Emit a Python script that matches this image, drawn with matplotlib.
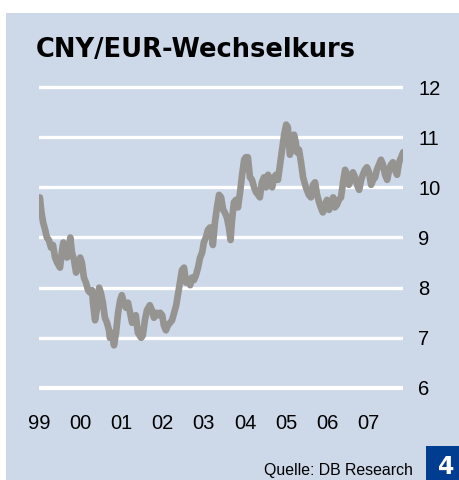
import matplotlib.pyplot as plt
from matplotlib.patches import Rectangle

plt.rcParams['font.family'] = ['Liberation Sans', 'DejaVu Sans']

# CNY per EUR (decimal years)
years = [
    1999.02, 1999.06, 1999.10, 1999.15, 1999.19, 1999.24, 1999.29, 1999.34, 1999.39, 1999.44,
    1999.51, 1999.56, 1999.59, 1999.63, 1999.68, 1999.73, 1999.76, 1999.80, 1999.85, 1999.90,
    1999.95, 2000.00, 2000.04, 2000.09, 2000.14, 2000.19, 2000.24, 2000.29, 2000.31, 2000.36,
    2000.41, 2000.46, 2000.50, 2000.55, 2000.60, 2000.65, 2000.70, 2000.72, 2000.77, 2000.82,
    2000.87, 2000.92, 2000.97, 2001.01, 2001.06, 2001.11, 2001.16, 2001.21, 2001.26, 2001.31,
    2001.35, 2001.40, 2001.48, 2001.52, 2001.57, 2001.62, 2001.69, 2001.74, 2001.79, 2001.84,
    2001.89, 2001.94, 2001.99, 2002.03, 2002.08, 2002.13, 2002.18, 2002.23, 2002.28, 2002.33,
    2002.37, 2002.42, 2002.47, 2002.52, 2002.57, 2002.62, 2002.67, 2002.71, 2002.76, 2002.81,
    2002.86, 2002.91, 2002.96, 2003.00, 2003.05, 2003.10, 2003.15, 2003.20, 2003.22, 2003.27,
    2003.32, 2003.37, 2003.42, 2003.47, 2003.51, 2003.56, 2003.61, 2003.65, 2003.68, 2003.73,
    2003.78, 2003.83, 2003.88, 2003.93, 2003.98, 2004.02, 2004.07, 2004.12, 2004.17, 2004.22,
    2004.27, 2004.32, 2004.36, 2004.41, 2004.46, 2004.51, 2004.56, 2004.61, 2004.66, 2004.70,
    2004.75, 2004.80, 2004.85, 2004.90, 2004.95, 2005.00, 2005.04, 2005.07, 2005.09, 2005.14,
    2005.19, 2005.23, 2005.26, 2005.31, 2005.36, 2005.41, 2005.46, 2005.50, 2005.55, 2005.60,
    2005.65, 2005.70, 2005.75, 2005.80, 2005.84, 2005.89, 2005.94, 2005.99, 2006.04, 2006.09,
    2006.14, 2006.18, 2006.23, 2006.28, 2006.33, 2006.38, 2006.43, 2006.48, 2006.52, 2006.57,
    2006.62, 2006.67, 2006.72, 2006.77, 2006.82, 2006.86, 2006.91, 2006.96, 2007.01, 2007.06,
    2007.11, 2007.16, 2007.20, 2007.25, 2007.30, 2007.35, 2007.40, 2007.45, 2007.50, 2007.54,
    2007.59, 2007.64, 2007.69, 2007.74, 2007.79, 2007.84,
]
rates = [
    9.80, 9.50, 9.30, 9.15, 9.00, 8.95, 8.80, 8.85, 8.60, 8.50,
    8.40, 8.75, 8.90, 8.70, 8.60, 8.80, 9.00, 8.70, 8.55, 8.30,
    8.40, 8.60, 8.50, 8.20, 8.10, 7.95, 7.90, 7.95, 7.70, 7.35,
    7.60, 8.00, 7.90, 7.70, 7.40, 7.30, 7.15, 7.00, 7.10, 6.85,
    7.10, 7.50, 7.75, 7.85, 7.70, 7.60, 7.70, 7.50, 7.30, 7.35,
    7.45, 7.10, 7.00, 7.05, 7.35, 7.55, 7.65, 7.55, 7.40, 7.50,
    7.45, 7.50, 7.45, 7.25, 7.15, 7.25, 7.30, 7.35, 7.50, 7.65,
    7.85, 8.10, 8.35, 8.40, 8.10, 8.15, 8.05, 8.20, 8.15, 8.25,
    8.40, 8.60, 8.70, 8.90, 9.00, 9.15, 9.20, 9.00, 8.85, 9.30,
    9.60, 9.85, 9.80, 9.55, 9.50, 9.40, 9.20, 8.95, 9.30, 9.70,
    9.75, 9.60, 9.90, 10.25, 10.55, 10.60, 10.60, 10.20, 10.15, 10.00,
    9.90, 9.85, 9.80, 10.10, 10.20, 10.00, 10.25, 10.10, 10.00, 10.20,
    10.25, 10.15, 10.45, 10.75, 11.05, 11.25, 11.20, 10.85, 10.65, 10.85,
    11.05, 10.90, 10.70, 10.75, 10.50, 10.20, 10.05, 9.95, 9.85, 9.80,
    10.05, 10.10, 9.85, 9.70, 9.60, 9.50, 9.65, 9.75, 9.55, 9.65,
    9.80, 9.60, 9.65, 9.75, 9.80, 10.10, 10.35, 10.25, 10.05, 10.15,
    10.30, 10.20, 10.05, 9.95, 10.15, 10.25, 10.35, 10.40, 10.30, 10.05,
    10.15, 10.20, 10.35, 10.45, 10.55, 10.45, 10.25, 10.15, 10.35, 10.45,
    10.50, 10.35, 10.25, 10.50, 10.60, 10.70,
]

year_ticks = [1999, 2000, 2001, 2002, 2003, 2004, 2005, 2006, 2007]
year_labels = ['99', '00', '01', '02', '03', '04', '05', '06', '07']
y_ticks = [6, 7, 8, 9, 10, 11, 12]

bg = '#cdd8e9'
fig = plt.figure(figsize=(4.59, 4.80), dpi=100)
fig.patch.set_facecolor('white')
fig.add_artist(Rectangle((6 / 459, 0), 1, 1 - 13 / 480, transform=fig.transFigure,
                         facecolor=bg, edgecolor='none', zorder=0))

ax = fig.add_axes([39 / 459, 87 / 480, 364 / 459, 311 / 480])
ax.set_facecolor('none')
ax.set_xlim(1999, 1999 + 364 / 41.2)
ax.set_ylim(5.9, 12.1)

for v in y_ticks:
    ax.axhline(v, color='white', lw=2.4 if v > 6 else 3.0, solid_capstyle='round', zorder=1)

ax.plot(years, rates, color='#969491', lw=4.8, solid_joinstyle='round',
        solid_capstyle='round', zorder=3)

for s in ax.spines.values():
    s.set_visible(False)
ax.yaxis.tick_right()
ax.set_yticks(y_ticks)
ax.set_yticklabels([str(v) for v in y_ticks])
ax.set_xticks(year_ticks)
ax.set_xticklabels(year_labels)
ax.tick_params(axis='y', length=0, pad=11, labelsize=14.5)
ax.tick_params(axis='x', length=0, pad=15, labelsize=14.5)

fig.text(36 / 459, 1 - 57 / 480, 'CNY/EUR-Wechselkurs', fontsize=18.5, fontweight='bold',
         family='DejaVu Sans', ha='left', va='baseline')
fig.text(413 / 459, 1 - 475 / 480, 'Quelle: DB Research', fontsize=11.4,
         ha='right', va='baseline')
fig.add_artist(Rectangle((426 / 459, 0), 33 / 459, 34 / 480, transform=fig.transFigure,
                         facecolor='#003c8f', edgecolor='none'))
fig.text(446 / 459, 13 / 480, '4', fontsize=17, fontweight='bold', color='white',
         family='DejaVu Sans', ha='center', va='center')

fig.savefig('out.png', dpi=100)
